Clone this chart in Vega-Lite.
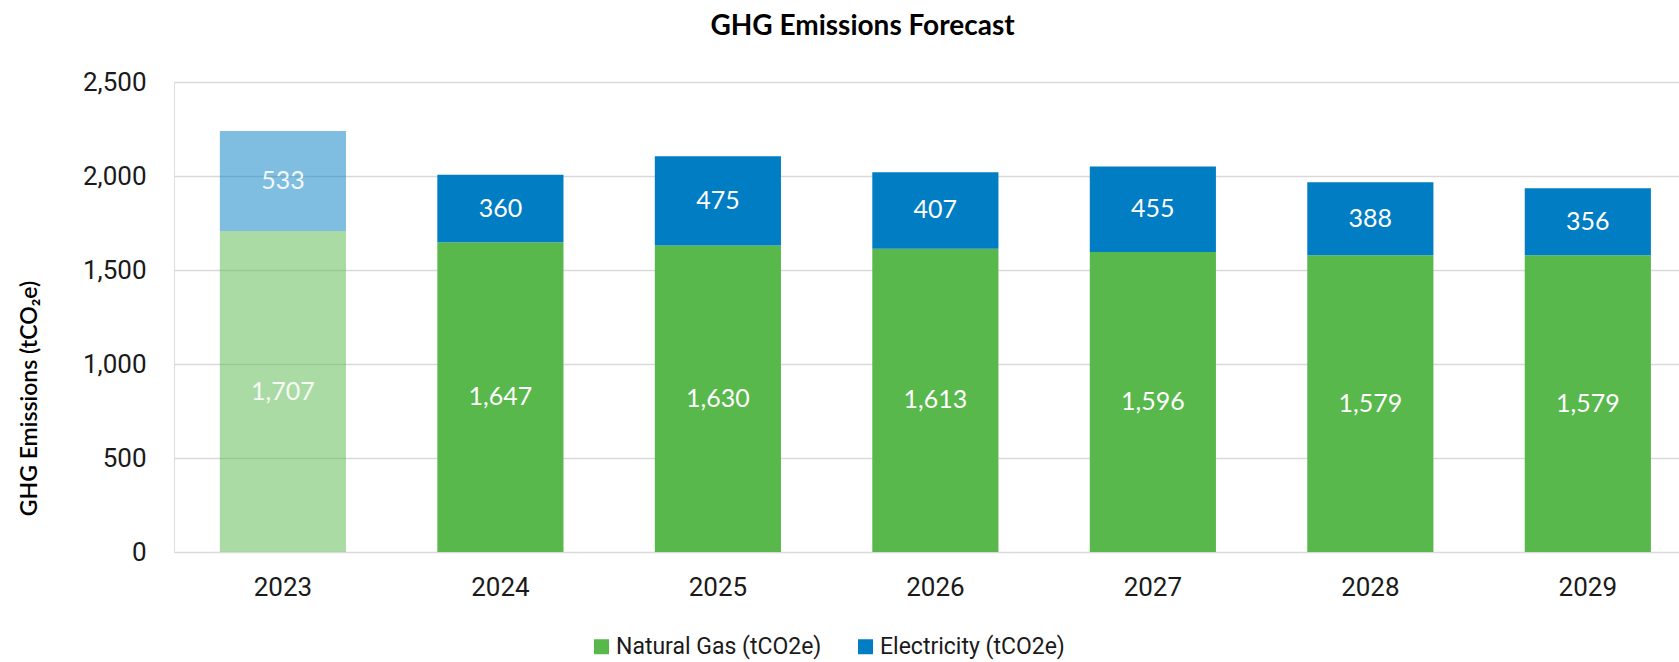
{
  "$schema": "https://vega.github.io/schema/vega-lite/v6.json",
  "width": 1505,
  "height": 470,
  "autosize": {"type": "none"},
  "padding": {"left": 174, "top": 82, "right": 0, "bottom": 110},
  "background": "white",
  "title": {
    "text": "GHG Emissions Forecast",
    "font": "Lato",
    "fontSize": 28,
    "fontWeight": "bold",
    "color": "#000000",
    "anchor": "middle",
    "dx": -64,
    "offset": 14,
    "baseline": "middle"
  },
  "data": {
    "values": [
      {"year": "2023", "source": "Natural Gas (tCO2e)", "ord": 1, "value": 1707},
      {"year": "2023", "source": "Electricity (tCO2e)", "ord": 2, "value": 533},
      {"year": "2024", "source": "Natural Gas (tCO2e)", "ord": 1, "value": 1647},
      {"year": "2024", "source": "Electricity (tCO2e)", "ord": 2, "value": 360},
      {"year": "2025", "source": "Natural Gas (tCO2e)", "ord": 1, "value": 1630},
      {"year": "2025", "source": "Electricity (tCO2e)", "ord": 2, "value": 475},
      {"year": "2026", "source": "Natural Gas (tCO2e)", "ord": 1, "value": 1613},
      {"year": "2026", "source": "Electricity (tCO2e)", "ord": 2, "value": 407},
      {"year": "2027", "source": "Natural Gas (tCO2e)", "ord": 1, "value": 1596},
      {"year": "2027", "source": "Electricity (tCO2e)", "ord": 2, "value": 455},
      {"year": "2028", "source": "Natural Gas (tCO2e)", "ord": 1, "value": 1579},
      {"year": "2028", "source": "Electricity (tCO2e)", "ord": 2, "value": 388},
      {"year": "2029", "source": "Natural Gas (tCO2e)", "ord": 1, "value": 1579},
      {"year": "2029", "source": "Electricity (tCO2e)", "ord": 2, "value": 356}
    ]
  },
  "encoding": {
    "x": {
      "field": "year",
      "type": "nominal",
      "scale": {"paddingInner": 0.42, "paddingOuter": 0.17, "align": 0.62},
      "axis": {
        "title": null,
        "labelAngle": 0,
        "labelFont": "Roboto",
        "labelFontSize": 26,
        "labelColor": "#1a1a1a",
        "labelPadding": 22,
        "ticks": false,
        "domain": false,
        "grid": false
      }
    }
  },
  "layer": [
    {
      "mark": {"type": "bar"},
      "encoding": {
        "y": {
          "field": "value",
          "type": "quantitative",
          "stack": "zero",
          "scale": {"domain": [0, 2500], "nice": false},
          "axis": {
            "values": [0, 500, 1000, 1500, 2000, 2500],
            "format": ",.0f",
            "title": "GHG Emissions (tCO₂e)",
            "titleFont": "Lato",
            "titleFontSize": 23,
            "titleFontWeight": 600,
            "titleColor": "#000000",
            "titleAngle": -90,
            "titleAlign": "center",
            "titleBaseline": "middle",
            "titleX": -145,
            "titleY": 316,
            "labelFont": "Roboto",
            "labelFontSize": 26,
            "labelColor": "#1a1a1a",
            "labelPadding": 28,
            "ticks": false,
            "domain": false,
            "grid": true,
            "gridColor": "#D9D9D9",
            "gridWidth": 1.5
          }
        },
        "order": {"field": "ord", "type": "quantitative"},
        "color": {
          "field": "source",
          "type": "nominal",
          "scale": {
            "domain": ["Natural Gas (tCO2e)", "Electricity (tCO2e)"],
            "range": ["#58B84B", "#007DC3"]
          },
          "legend": {
            "title": null,
            "orient": "none",
            "direction": "horizontal",
            "legendX": 416,
            "legendY": 553,
            "symbolType": "square",
            "symbolSize": 225,
            "symbolStrokeWidth": 0,
            "labelFont": "Roboto",
            "labelFontSize": 23,
            "labelColor": "#1a1a1a",
            "labelOffset": 3,
            "labelLimit": 400,
            "columnPadding": 32,
            "padding": 0
          }
        },
        "opacity": {
          "condition": {"test": "datum.year === '2023'", "value": 0.5},
          "value": 1
        }
      }
    },
    {
      "transform": [
        {"stack": "value", "groupby": ["year"], "sort": [{"field": "ord", "order": "ascending"}], "as": ["y0", "y1"]},
        {"fold": ["y0", "y1"], "as": ["edge", "pos"]},
        {"aggregate": [{"op": "mean", "field": "pos", "as": "mid"}], "groupby": ["year", "source", "value"]}
      ],
      "mark": {"type": "text", "font": "Lato", "fontSize": 25, "color": "white", "baseline": "middle", "align": "center"},
      "encoding": {
        "y": {"field": "mid", "type": "quantitative"},
        "text": {"field": "value", "type": "quantitative", "format": ","},
        "opacity": {
          "condition": {"test": "datum.year === '2023'", "value": 0.9},
          "value": 1
        }
      }
    }
  ]
}
